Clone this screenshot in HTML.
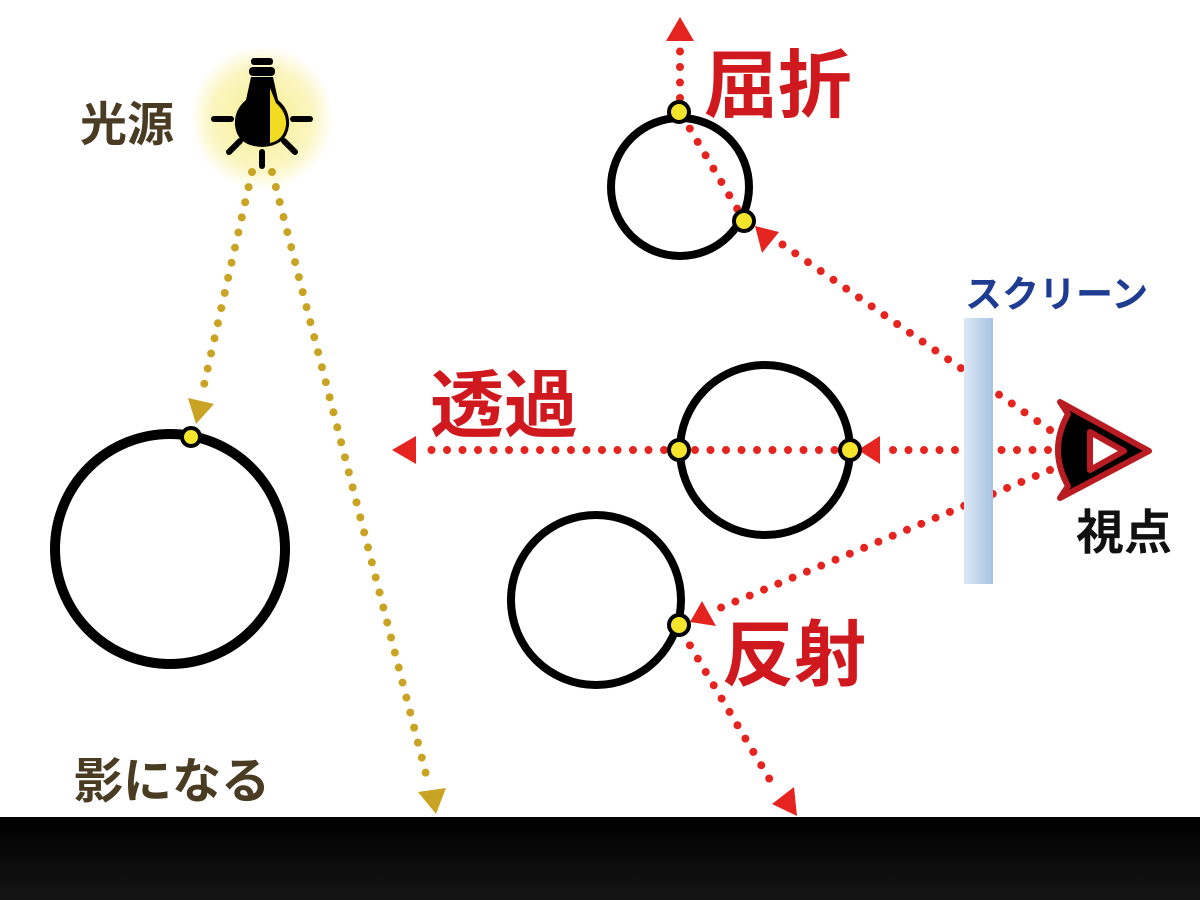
<!DOCTYPE html>
<html><head><meta charset="utf-8"><style>
html,body{margin:0;padding:0;background:#fff;}
svg{display:block}
text{font-family:"Liberation Sans","Noto Sans CJK JP",sans-serif;font-weight:bold;}
</style></head><body>
<svg width="1200" height="900" viewBox="0 0 1200 900" xmlns="http://www.w3.org/2000/svg">
<defs>
<linearGradient id="bot" x1="0" y1="0" x2="0" y2="1"><stop offset="0" stop-color="#000"/><stop offset="1" stop-color="#151515"/></linearGradient>
<linearGradient id="scr" x1="0" y1="0" x2="1" y2="0"><stop offset="0" stop-color="#dde8f5"/><stop offset="1" stop-color="#a7c3e2"/></linearGradient>
<radialGradient id="glow"><stop offset="0" stop-color="#f2e030" stop-opacity="0.9"/><stop offset="0.7" stop-color="#f2e030" stop-opacity="0.5"/><stop offset="1" stop-color="#f2e030" stop-opacity="0"/></radialGradient>
</defs>
<rect x="0" y="817" width="1200" height="83" fill="url(#bot)"/>

<circle cx="262" cy="118" r="72" fill="url(#glow)" opacity="0.6"/>

<g stroke="#c9a424" stroke-width="8" stroke-linecap="round" stroke-dasharray="0 15.5" fill="none">
<line x1="252" y1="172" x2="204" y2="385"/>
<line x1="272" y1="172" x2="428" y2="782"/>
</g>
<g fill="#c9a424">
<polygon points="188,398 214,404 196,424"/>
<polygon points="418,792 446,788 436,814"/>
</g>

<g stroke="#e52420" stroke-width="8" stroke-linecap="round" stroke-dasharray="0 15.5" fill="none">
<line x1="1048" y1="450" x2="880" y2="450"/>
<line x1="850" y1="450" x2="420" y2="450"/>
<line x1="1050" y1="430" x2="776" y2="240"/>
<line x1="745" y1="222" x2="680" y2="112"/>
<line x1="680" y1="98" x2="680" y2="45"/>
<line x1="1050" y1="470" x2="720" y2="608"/>
<line x1="682" y1="632" x2="776" y2="790"/>
</g>
<g fill="#e52420">
<polygon points="392,450 416,436 416,464"/>
<polygon points="858,450 880,436 880,464"/>
<polygon points="680,17 694,41 666,41"/>
<polygon points="755,226 779,232 762,253"/>
<polygon points="690,622 702,601 716,626"/>
<polygon points="797,816 772,804 794,787"/>
</g>

<g fill="none" stroke="#000">
<circle cx="170" cy="549" r="115" stroke-width="10"/>
<circle cx="680" cy="187" r="69" stroke-width="8"/>
<circle cx="765" cy="450" r="85" stroke-width="8"/>
<circle cx="596" cy="600" r="85" stroke-width="8"/>
</g>
<g fill="#f4e42c" stroke="#000" stroke-width="4">
<circle cx="191" cy="437" r="9"/>
<circle cx="679" cy="112" r="10"/>
<circle cx="744" cy="221" r="10"/>
<circle cx="679" cy="450" r="10"/>
<circle cx="850" cy="450" r="10"/>
<circle cx="679" cy="625" r="10"/>
</g>

<rect x="964" y="318" width="29" height="266" fill="url(#scr)"/>

<g stroke="#b81c22" stroke-width="6" stroke-linejoin="round">
<path d="M1060,402 L1149,451 L1060,498 L1068,486 Q1048,450 1068,414 Z" fill="#000"/>
<polygon points="1090,432 1124,451 1090,470" fill="#fff"/>
</g>

<g fill="#000">
<rect x="251" y="58" width="22" height="7" rx="3"/>
<rect x="249" y="67" width="26" height="9" rx="4"/>
<path d="M251,77 L273,77 L278,100 Q290,110 289,125 Q287,146 262,147 Q237,146 235,125 Q234,110 246,100 Z"/>
</g>
<path d="M270,88 L276,103 Q287,113 286,125 Q284,140 270,143 Z" fill="#f2dc22"/>
<g stroke="#000" stroke-width="6" stroke-linecap="round">
<line x1="214" y1="119" x2="231" y2="119"/>
<line x1="293" y1="119" x2="310" y2="119"/>
<line x1="229" y1="152" x2="240" y2="141"/>
<line x1="295" y1="152" x2="284" y2="141"/>
<line x1="262" y1="152" x2="262" y2="166"/>
</g>

<text x="80" y="141" font-size="47" fill="#4a3c22">光源</text>
<text x="74" y="798" font-size="49" fill="#4a3c22">影になる</text>
<text x="704" y="111" font-size="74" fill="#d0191f">屈折</text>
<text x="430" y="431" font-size="74" fill="#d0191f">透過</text>
<text x="722" y="680" font-size="72" fill="#d0191f">反射</text>
<text x="965" y="307" font-size="37" fill="#1f3c93">スクリーン</text>
<text x="1076" y="549" font-size="48" fill="#111">視点</text>
</svg>
</body></html>
